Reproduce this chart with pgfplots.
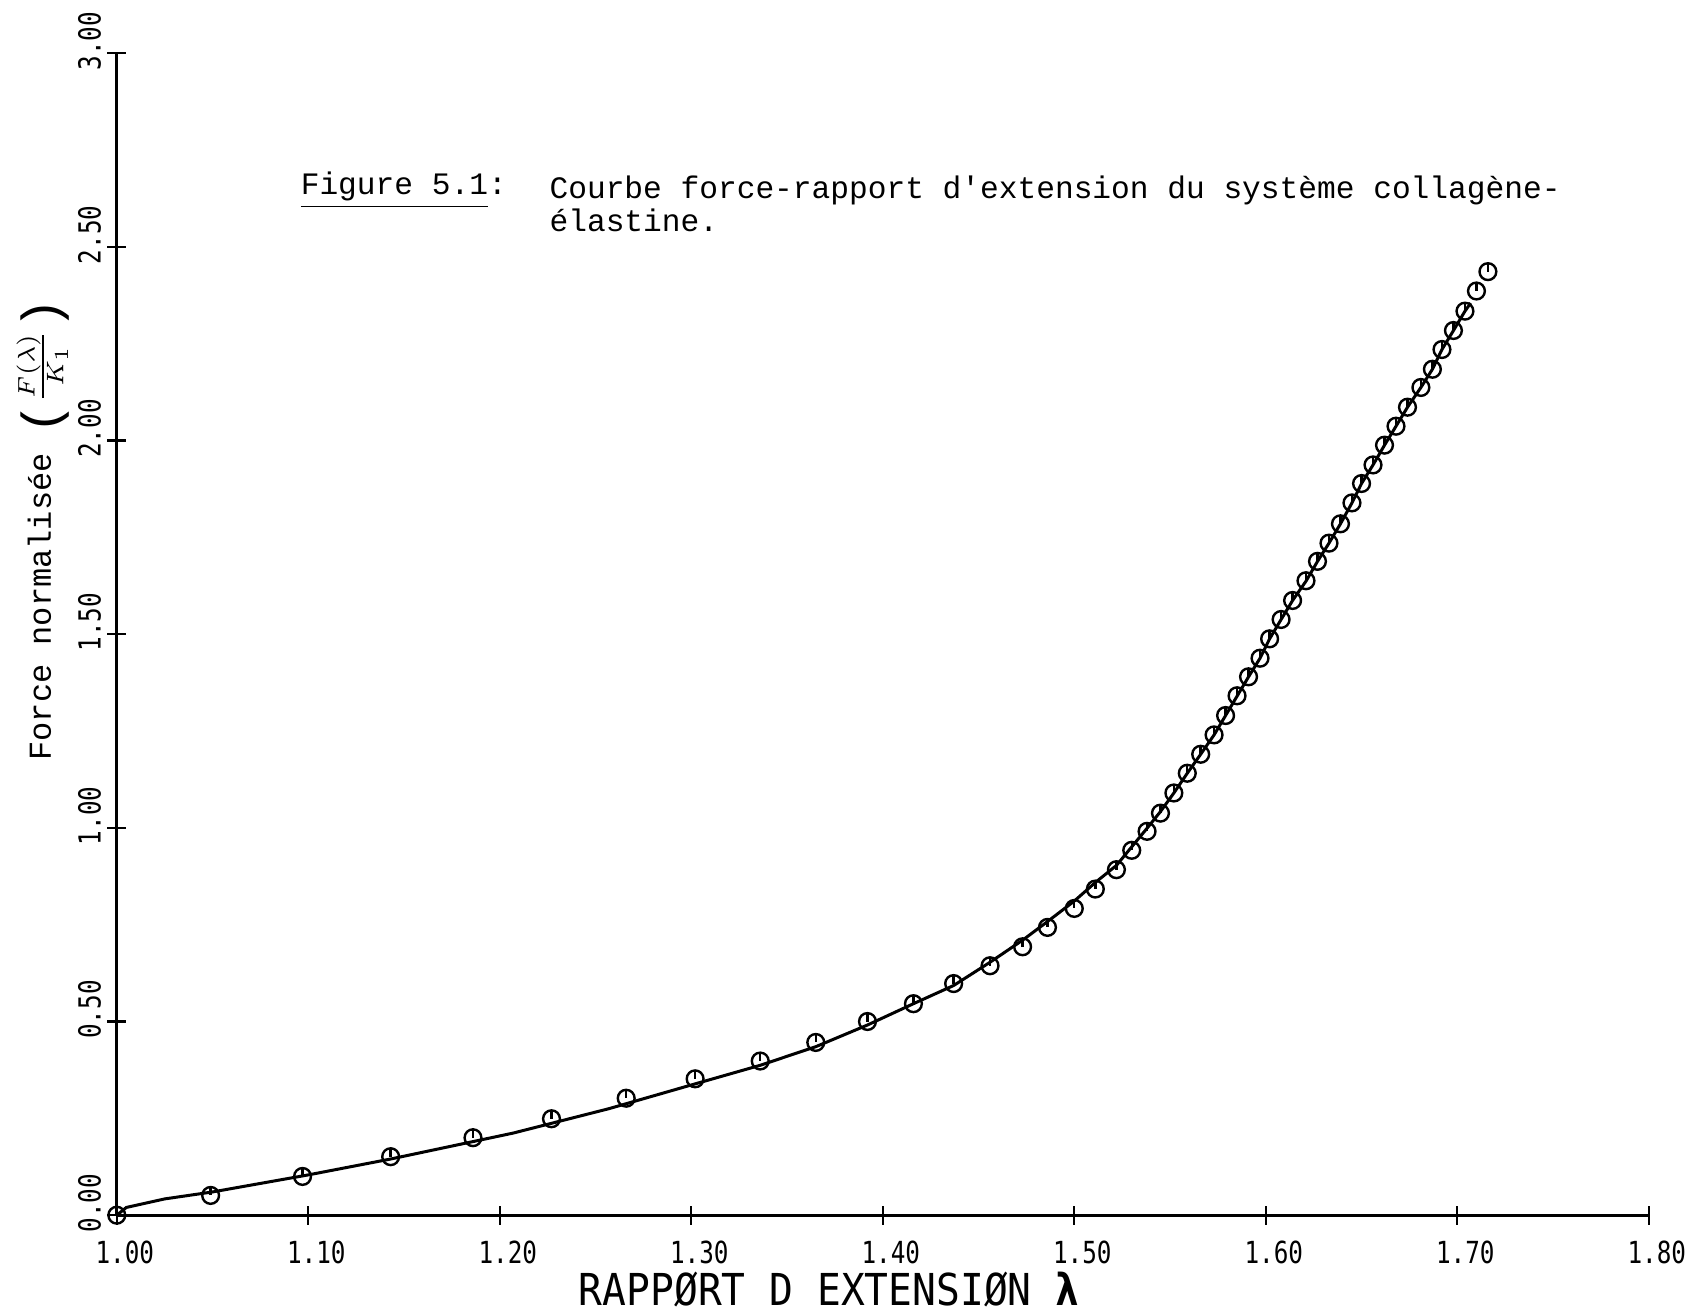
\documentclass[border=0pt]{standalone}
\usepackage{pgfplots}
\usepackage{pgfplotstable}
\pgfplotsset{compat=1.18}
\usepackage{fontspec}
\setmainfont{Liberation Mono}
\newfontfamily\plotfont[FakeStretch=0.8]{DejaVu Sans Mono}
\newfontfamily\labfont[FakeStretch=0.9]{DejaVu Sans Mono}

\pgfdeclareplotmark{circtick}{%
  \pgfpathcircle{\pgfpointorigin}{\pgfplotmarksize}%
  \pgfusepathqstroke
  \pgfpathmoveto{\pgfqpoint{0pt}{\pgfplotmarksize}}%
  \pgfpathlineto{\pgfqpoint{0pt}{0pt}}%
  \pgfusepathqstroke}

\pgfplotstableread{
lam F
1.000 0.000
1.049 0.051
1.097 0.100
1.143 0.151
1.186 0.200
1.227 0.249
1.266 0.302
1.302 0.352
1.336 0.398
1.365 0.446
1.392 0.500
1.416 0.546
1.437 0.598
1.456 0.644
1.473 0.693
1.486 0.743
1.500 0.792
1.511 0.842
1.522 0.892
1.530 0.942
1.538 0.991
1.545 1.038
1.552 1.090
1.559 1.141
1.566 1.190
1.573 1.240
1.579 1.290
1.585 1.341
1.591 1.390
1.597 1.438
1.602 1.488
1.608 1.538
1.614 1.587
1.621 1.638
1.627 1.688
1.633 1.735
1.639 1.785
1.645 1.839
1.650 1.889
1.656 1.937
1.662 1.988
1.668 2.037
1.674 2.086
1.681 2.137
1.687 2.184
1.692 2.235
1.698 2.284
1.704 2.334
1.710 2.386
1.716 2.436
}\points

\pgfplotstableread{
lam F
1.000 0.000
1.005 0.020
1.025 0.042
1.050 0.060
1.075 0.082
1.100 0.104
1.143 0.145
1.186 0.190
1.207 0.212
1.257 0.275
1.302 0.339
1.336 0.387
1.365 0.435
1.392 0.491
1.416 0.546
1.437 0.593
1.456 0.653
1.473 0.710
1.486 0.758
1.500 0.811
1.511 0.859
1.522 0.903
1.530 0.951
1.538 0.999
1.545 1.042
1.552 1.090
1.559 1.141
1.566 1.190
1.573 1.240
1.579 1.290
1.585 1.340
1.591 1.390
1.597 1.438
1.602 1.488
1.608 1.538
1.614 1.587
1.621 1.637
1.627 1.688
1.633 1.735
1.639 1.785
1.645 1.839
1.650 1.889
1.656 1.937
1.662 1.988
1.668 2.037
1.674 2.086
1.681 2.137
1.687 2.184
1.692 2.235
1.698 2.284
1.704 2.334
1.707 2.355
}\curve

\begin{document}
\begin{tikzpicture}
\begin{axis}[
  scale only axis, width=383pt, height=290.5pt,
  xmin=1, xmax=1.8, ymin=0, ymax=3,
  axis x line=bottom, axis y line=left,
  axis line style={-, line width=0.75pt, black},
  xtick={1,1.1,1.2,1.3,1.4,1.5,1.6,1.7,1.8},
  ytick={0,0.5,1,1.5,2,2.5,3},
  tick align=center, major tick length=4.8pt,
  tick style={line width=0.6pt, black},
  /pgf/number format/fixed, /pgf/number format/fixed zerofill,
  /pgf/number format/precision=2, /pgf/number format/assume math mode=true,
  ticklabel style={font=\plotfont\fontsize{7.6}{8}\selectfont},
  xticklabel style={xshift=2pt, yshift=-0.5pt},
  yticklabel style={xshift=2pt, yshift=3pt, rotate=90, anchor=south},
  xlabel={RAPPØRT D EXTENSIØN \textbf{λ}},
  xlabel style={font=\labfont\fontsize{11}{12}\selectfont, at={(axis description cs:0.465,0)}, anchor=center, yshift=-18.5pt},
  ylabel={Force normalisée {\fontsize{13}{13}\selectfont\raisebox{-2pt}{(}}{\fontsize{8}{9}\selectfont$\frac{F(\lambda)}{K_1}$}{\fontsize{13}{13}\selectfont\raisebox{-2pt}{)}}},
  ylabel style={font=\fontsize{8}{9}\selectfont, at={(axis description cs:-0.043,0.59)}, anchor=base, inner sep=0pt},
  clip=false,
]
\addplot[black, line width=0.75pt, no marks] table[x=lam, y=F] {\curve};
\addplot[only marks, mark=circtick, mark size=2.1pt, mark options={black, line width=0.6pt}] table[x=lam, y=F] {\points};
\end{axis}
\node[anchor=base west, inner sep=0pt, font=\fontsize{7.8}{8.2}\selectfont] at (45.8pt,255.2pt) {\underline{Figure 5.1}:};
\node[anchor=base west, inner sep=0pt, font=\fontsize{7.8}{8.2}\selectfont] at (108pt,254.2pt) {Courbe force-rapport d\textquotesingle extension du système collagène-};
\node[anchor=base west, inner sep=0pt, font=\fontsize{7.8}{8.2}\selectfont] at (108pt,246.0pt) {élastine.};
\pgfresetboundingbox
\useasboundingbox (-29.2pt,-25pt) rectangle (394.3pt,303.8pt);
\end{tikzpicture}
\end{document}
